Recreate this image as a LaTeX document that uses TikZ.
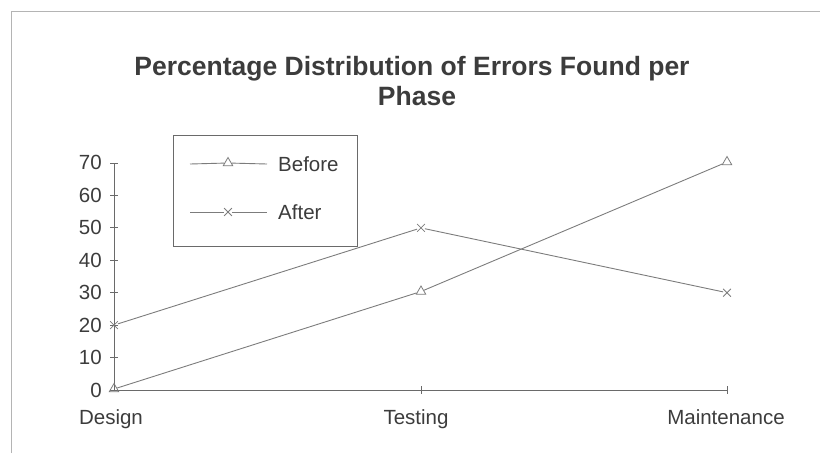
\documentclass[tikz,border=0pt]{standalone}
\usepackage{fontspec}
\setmainfont{Liberation Sans}
\usetikzlibrary{shapes.geometric,shapes.misc}
\definecolor{inkgray}{HTML}{3C3C3C}
\definecolor{linegray}{HTML}{7C7C7C}
\definecolor{axisgray}{HTML}{6A6A6A}
\definecolor{framegray}{HTML}{B4B4B4}
\tikzset{
  lbl/.style={inner sep=0pt, text=inkgray, font=\fontsize{20.5}{24}\selectfont},
  ttl/.style={inner sep=0pt, text=inkgray, font=\fontsize{26.5}{30}\selectfont\bfseries},
  series/.style={draw=linegray, line width=0.9pt},
  tri/.style={regular polygon, regular polygon sides=3, draw=linegray, line width=0.8pt,
              minimum size=11pt, inner sep=0pt},
  xmark/.style={cross out, draw=linegray, line width=0.8pt, minimum size=7pt, inner sep=0pt},
  axisline/.style={draw=axisgray, line width=0.8pt},
}
\begin{document}
\begin{tikzpicture}[x=1pt, y=-1pt]
\useasboundingbox (0,0) rectangle (820,453);

% outer frame (top and left edges)
\draw[framegray, line width=0.8pt] (11,453) -- (11,11) -- (820,11);

% title
\node[ttl, anchor=base] (t1) at (412,75) {Percentage Distribution of Errors Found per};
\node[ttl, anchor=base] (t2) at (417,105) {Phase};

% axes
\coordinate (o) at (114,390);
\coordinate (ytop) at (114,163);
\coordinate (xend) at (727,390);
\draw[axisline] (ytop) -- (o) -- (xend);

% y ticks and labels, 0..70
\foreach \v in {0,10,...,70} {
  \pgfmathsetmacro{\yy}{390-3.243*\v}
  \draw[axisline] (110,\yy) -- (118,\yy);
  \node[lbl, anchor=base east] (y\v) at (102,\yy+7) {\v};
}
% x ticks
\draw[axisline] (421,386) -- (421,394);
\draw[axisline] (727,386) -- (727,394);

% category labels
\node[lbl, anchor=base] (cd) at (111,424) {Design};
\node[lbl, anchor=base] (ct) at (416,424) {Testing};
\node[lbl, anchor=base] (cm) at (726,424) {Maintenance};

% Before series: 0, 30, 70
\node[tri] (b1) at (114,389) {};
\node[tri] (b2) at (421,291.5) {};
\node[tri] (b3) at (727,162) {};
\draw[series] (b1) -- (b2) -- (b3);

% After series: 20, 50, 30
\node[xmark] (a1) at (114,325.1) {};
\node[xmark] (a2) at (421,227.9) {};
\node[xmark] (a3) at (727,292.7) {};
\draw[series] (a1) -- (a2) -- (a3);

% legend
\draw[draw=axisgray, fill=white, line width=0.8pt] (173,135) rectangle (357,246);
\coordinate (lb1) at (190,164);
\node[tri] (lbm) at (228,163) {};
\coordinate (lb2) at (267,164);
\draw[series] (lb1) -- (lbm) -- (lb2);
\node[lbl, anchor=base west] (lbt) at (278,171) {Before};
\coordinate (la1) at (190,212);
\node[xmark] (lam) at (228,212) {};
\coordinate (la2) at (267,212);
\draw[series] (la1) -- (lam) -- (la2);
\node[lbl, anchor=base west] (lat) at (278,219) {After};
\end{tikzpicture}
\end{document}
